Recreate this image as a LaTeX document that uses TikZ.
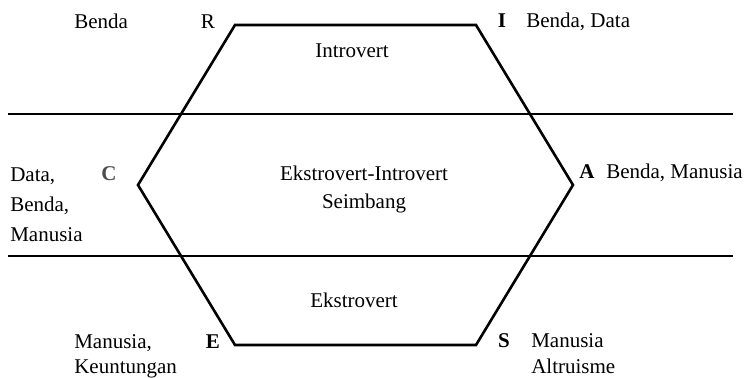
\documentclass[tikz,border=0pt]{standalone}
\usepackage{fontspec}
\setmainfont{Liberation Serif}
\usetikzlibrary{calc, positioning}

\begin{document}
\begin{tikzpicture}[x=0.5pt, y=-0.5pt, line width=1.3pt, line join=miter,
        every node/.style={inner sep=0pt, font=\fontsize{10.5}{12}\selectfont}]
        \useasboundingbox (0,0) rectangle (746,377);

        % hexagon corners
        \coordinate (R) at (235, 25);
        \coordinate (I) at (476, 25);
        \coordinate (A) at (573, 185);
        \coordinate (S) at (476, 345);
        \coordinate (E) at (235, 345);
        \coordinate (C) at (138, 185);

        \draw (R) -- (I) -- (A) -- (S) -- (E) -- (C) -- cycle;

        % band lines
        \coordinate (L1) at (8, 114);
        \coordinate (L2) at (8, 256);
        \foreach \l in {1, 2}{
            \coordinate (L\l e) at ($(L\l) + (725, 0)$);
            \draw (L\l) -- (L\l e);
        }

        \tikzstyle{lbl} = [anchor=base west];
        \tikzstyle{mid} = [anchor=base];
        \tikzstyle{vtx} = [anchor=base, font=\fontsize{10.5}{12}\selectfont\bfseries];

        % corner letters
        \node [mid] (r) at (208, 28) {R};
        \node [vtx] (i) at (502, 27) {I};
        \node [vtx, text=black!70] (c) at (109, 180) {C};
        \node [vtx] (a) at (587, 178) {A};
        \node [vtx] (e) at (213, 348) {E};
        \node [vtx] (s) at (504, 347) {S};

        % zone names
        \node [mid] (intro) at (352, 57) {Introvert};
        \node [mid] (seimb1) at (364, 180) {Ekstrovert-Introvert};
        \node [mid] (seimb2) at (364, 208) {Seimbang};
        \node [mid] (ekstro) at (354, 307) {Ekstrovert};

        % objects
        \node [lbl] (or) at (73, 28) {Benda};
        \node [lbl] (oi) at (525, 27) {Benda, Data};
        \node [lbl] (oc1) at (9, 181) {Data,};
        \node [lbl] (oc2) at (9, 211) {Benda,};
        \node [lbl] (oc3) at (9, 241) {Manusia};
        \node [lbl] (oa) at (605, 178) {Benda, Manusia};
        \node [lbl] (oe1) at (73, 348) {Manusia,};
        \node [lbl] (oe2) at (73, 373) {Keuntungan};
        \node [lbl] (os1) at (530, 347) {Manusia};
        \node [lbl] (os2) at (530, 373) {Altruisme};
    \end{tikzpicture}
\end{document}
